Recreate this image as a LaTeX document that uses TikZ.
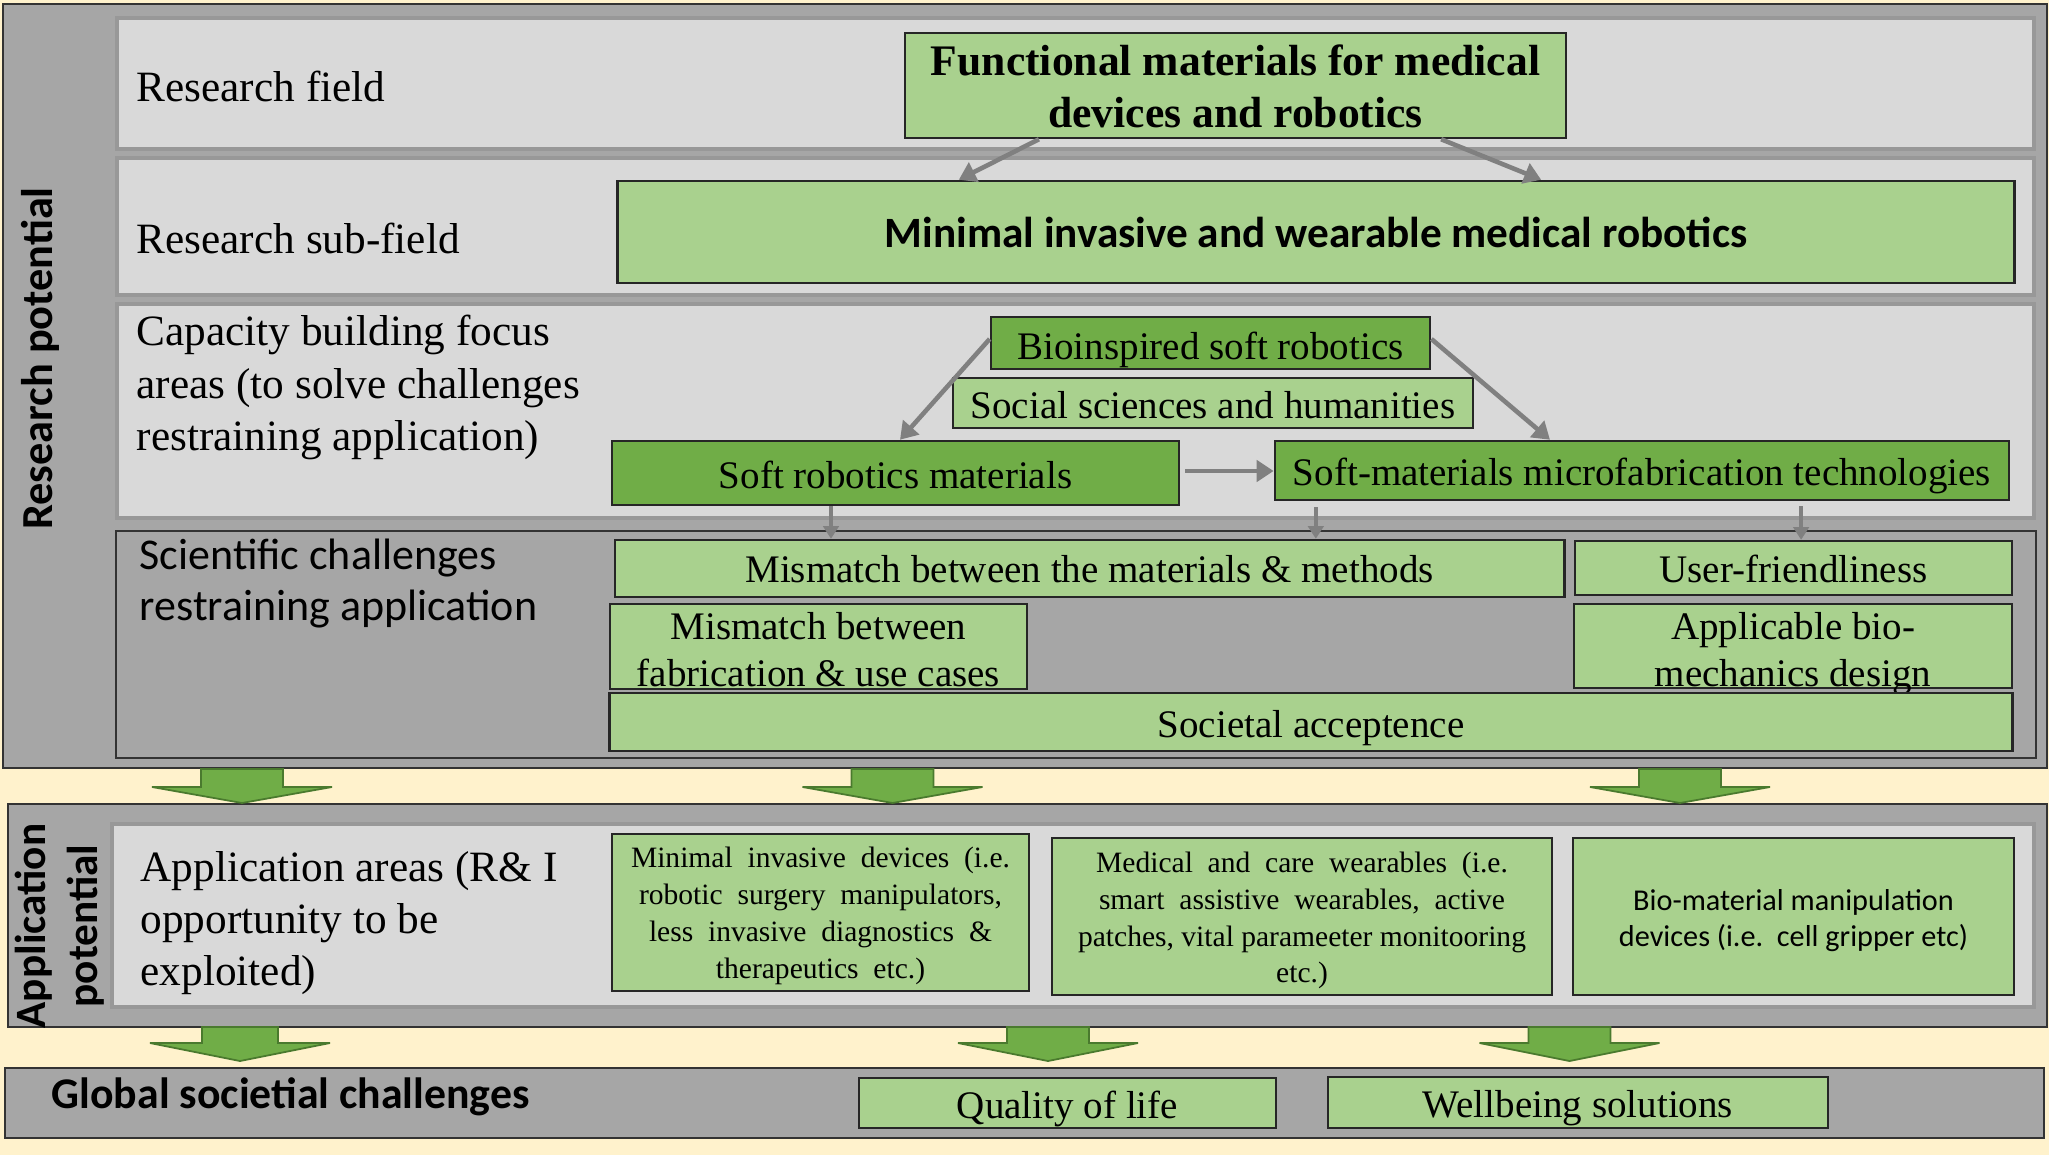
\documentclass[tikz,border=0pt]{standalone}
\usepackage{fontspec}
\setmainfont{Liberation Serif}
\setsansfont{Carlito}
\usetikzlibrary{arrows.meta,calc}
\definecolor{cream}{HTML}{FFF2CC}
\definecolor{panelgrey}{HTML}{A6A6A6}
\definecolor{rowgrey}{HTML}{D9D9D9}
\definecolor{rowedge}{HTML}{989898}
\definecolor{lgreen}{HTML}{A9D18E}
\definecolor{mgreen}{HTML}{70AD47}
\definecolor{dgreen}{HTML}{4A7A2E}
\definecolor{arrgrey}{HTML}{808080}
\newcommand\lift[1]{\rule{0pt}{#1}}
\tikzset{
  panel/.style={fill=panelgrey, draw=black!80, line width=0.6pt},
  rowbox/.style={fill=rowgrey, draw=rowedge, line width=1pt},
  darkrow/.style={fill=panelgrey, draw=black!80, line width=0.7pt},
  lbox/.style={fill=lgreen, draw=black!85, line width=0.7pt, inner sep=0pt, align=center,
    font=\fontsize{11.1}{13.1}\selectfont},
  mbox/.style={lbox, fill=mgreen},
  garrow/.style={draw=arrgrey, line width=1.3pt, -{Triangle[length=4.8pt,width=6pt]}},
  sarrow/.style={draw=arrgrey, line width=1pt, -{Triangle[length=3.6pt,width=4.4pt]}},
  bigarr/.style={fill=mgreen, draw=dgreen, line width=0.5pt},
  lab/.style={anchor=base west, inner sep=0pt, font=\fontsize{12.3}{14.8}\selectfont},
  vlab/.style={inner sep=0pt, font=\sffamily\bfseries\fontsize{12.3}{14.8}\selectfont},
}
\newcommand\bigarrow[4]{% centre x, top y, shaft half width, head base offset
  \filldraw[bigarr] ({#1-#3},#2) -- ({#1+#3},#2) -- ({#1+#3},{#2+#4}) -- ({#1+90},{#2+#4})
    -- (#1,{#2+34}) -- ({#1-90},{#2+#4}) -- ({#1-#3},{#2+#4}) -- cycle;}
\begin{document}
\begin{tikzpicture}[x=0.01cm,y=-0.01cm]
\fill[cream] (0,0) rectangle (2049,1155);
\useasboundingbox (0,0) rectangle (2049,1155);

% ---------- panels ----------
\draw[panel] (3,4) rectangle (2047,768);
\draw[rowbox] (117,18) rectangle (2034,149);
\draw[rowbox] (117,158) rectangle (2034,295);
\draw[rowbox] (117,304) rectangle (2034,518);
\draw[darkrow] (116,531) rectangle (2036,758);

\draw[panel] (8,804) rectangle (2047,1027);
\draw[rowbox] (112,824) rectangle (2034,1007);

\draw[panel] (5,1068) rectangle (2044,1138);

% ---------- side labels ----------
\node[vlab, rotate=90, anchor=base, font=\sffamily\bfseries\fontsize{12.6}{14.8}\selectfont] (rp) at (52,358.5) {Research potential};
\node[vlab, rotate=90, anchor=base] (ap) at (45,926)
  {\begin{tabular}[t]{@{}c@{}}Application\\potential\end{tabular}};
\node[vlab, anchor=base west, font=\sffamily\bfseries\fontsize{12.45}{14.8}\selectfont] (gs) at (51,1108) {Global societial challenges};

% ---------- row labels ----------
\node[lab] (l1) at (136,102) {Research field};
\node[lab] (l2) at (136,254) {Research sub-field};
\node[lab] (l3) at (136,346)
  {\begin{tabular}[t]{@{}l@{}}Capacity building focus\\areas (to solve challenges\\restraining application)\end{tabular}};
\node[anchor=base west, inner sep=0pt, font=\sffamily\fontsize{12.5}{14.7}\selectfont] (l4) at (139,569)
  {\begin{tabular}[t]{@{}l@{}}Scientific challenges\\restraining application\end{tabular}};
\node[lab] (l5) at (140,881)
  {\begin{tabular}[t]{@{}l@{}}Application areas (R\& I\\opportunity to be\\exploited)\end{tabular}};

% ---------- boxes ----------
\node[lbox, minimum width=6.61cm, minimum height=1.05cm, font=\bfseries\fontsize{12.4}{14.8}\selectfont]
  (F1) at (1235.5,85.5) {\lift{9.3pt}Functional materials for medical\\devices and robotics};
\node[lbox, minimum width=13.96cm, minimum height=1.02cm, font=\sffamily\bfseries\fontsize{12.3}{14.8}\selectfont]
  (S1) at (1316,232) {Minimal invasive and wearable medical robotics};

\node[mbox, minimum width=4.39cm, minimum height=0.52cm] (bio) at (1210.5,343) {\lift{11.9pt}Bioinspired soft robotics};
\node[lbox, minimum width=5.20cm, minimum height=0.50cm] (soc) at (1213,403) {\lift{8.9pt}Social sciences and humanities};
\node[mbox, minimum width=5.67cm, minimum height=0.64cm] (srm) at (895.5,473) {\lift{8.9pt}Soft robotics materials};
\node[mbox, minimum width=7.34cm, minimum height=0.59cm] (smf) at (1642,470.5) {\lift{11.1pt}Soft-materials microfabrication technologies};

\node[lbox, minimum width=9.49cm, minimum height=0.57cm] (mm1) at (1089.5,568.5) {\lift{8.2pt}Mismatch between the materials \& methods};
\node[lbox, minimum width=4.37cm, minimum height=0.54cm] (uf) at (1793.5,568) {\lift{8.2pt}User-friendliness};
\node[lbox, minimum width=4.17cm, minimum height=0.85cm, font=\fontsize{11.1}{13.5}\selectfont]
  (mm2) at (818.5,646.5) {\lift{9.5pt}Mismatch between\\fabrication \& use cases};
\node[lbox, minimum width=4.38cm, minimum height=0.84cm, font=\fontsize{11.1}{13.4}\selectfont]
  (abd) at (1793,646) {\raisebox{1.9pt}[0pt][0pt]{\begin{tabular}[t]{@{}c@{}}Applicable bio-\\mechanics design\end{tabular}}};
\node[lbox, minimum width=14.02cm, minimum height=0.58cm] (sa) at (1311,722) {\lift{11.1pt}Societal acceptence};

\node[lbox, minimum width=4.17cm, minimum height=1.57cm, font=\fontsize{8.4}{10.45}\selectfont]
  (mi) at (820.5,912.5) {\lift{7.7pt}Minimal\ \ invasive\ \ devices\ \ (i.e.\\robotic\ \ surgery\ \ manipulators,\\less\ \ invasive\ \ diagnostics\ \ \&\\therapeutics\ \ etc.)};
\node[lbox, minimum width=5.00cm, minimum height=1.57cm, font=\fontsize{8.4}{10.45}\selectfont]
  (mc) at (1302,916.5) {\lift{8.2pt}Medical\ \ and\ \ care\ \ wearables\ \ (i.e.\\smart\ \ assistive\ \ wearables,\ \ active\\patches,\ vital\ parameeter\ monitooring\\etc.)};
\node[lbox, minimum width=4.41cm, minimum height=1.57cm, font=\sffamily\fontsize{8.6}{10.3}\selectfont]
  (bm) at (1793.5,916.5) {\lift{8.3pt}Bio-material manipulation\\devices (i.e.\ \ cell gripper etc)};

\node[lbox, minimum width=4.17cm, minimum height=0.50cm] (ql) at (1067.5,1103) {\lift{11.1pt}Quality of life};
\node[lbox, minimum width=5.00cm, minimum height=0.51cm] (ws) at (1578,1102.5) {\lift{11.1pt}Wellbeing solutions};

% ---------- grey connectors ----------
\draw[garrow] ([xshift=-1.965cm]F1.south) -- ([xshift=-3.57cm]S1.north);
\draw[garrow] ([xshift=2.055cm]F1.south) -- ([xshift=2.25cm]S1.north);
\draw[garrow] ([yshift=0.04cm]bio.west) -- ([xshift=0.045cm]srm.north);
\draw[garrow] ([yshift=0.04cm]bio.east) -- ([xshift=-0.92cm]smf.north);
\draw[garrow, shorten <=0.05cm] ([yshift=0.02cm]srm.east) -- ([yshift=0.02cm]srm.east -| smf.west);

\draw[sarrow] ([xshift=-0.645cm]srm.south) coordinate (b1) -- (b1 |- mm1.north);
\draw[sarrow] ([xshift=-3.26cm,yshift=-0.06cm]smf.south) coordinate (b2) -- (b2 |- mm1.north);
\draw[sarrow] ([xshift=1.59cm,yshift=-0.05cm]smf.south) coordinate (b3) -- (b3 |- uf.north);

% ---------- big green arrows ----------
\bigarrow{242}{769}{41}{18}
\bigarrow{892.5}{769}{41}{18}
\bigarrow{1680}{769}{41}{18}
\bigarrow{240}{1027}{38}{16}
\bigarrow{1048}{1027}{41}{16}
\bigarrow{1569.5}{1027}{41}{16}
\end{tikzpicture}
\end{document}
